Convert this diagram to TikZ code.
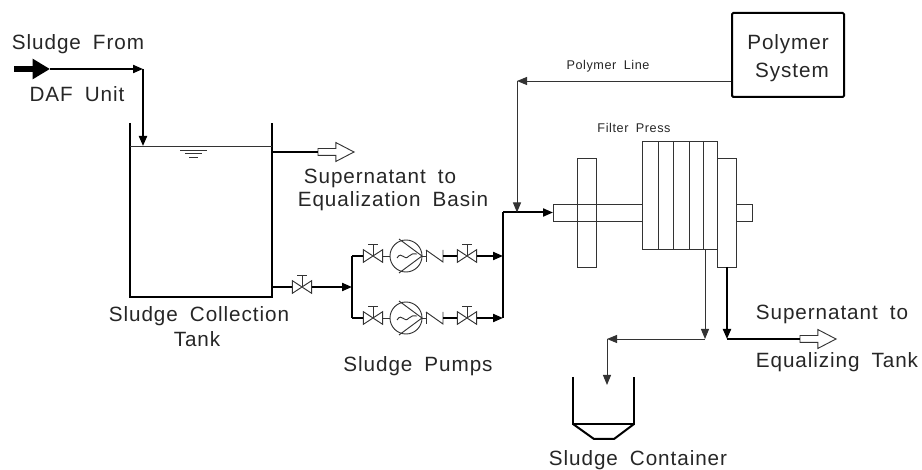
\documentclass[tikz,border=0pt]{standalone}
\usepackage{fontspec}
\setmainfont{Liberation Sans}[LetterSpace=4.5, WordSpace=1.8]
\usetikzlibrary{shapes.arrows, arrows.meta}

% Bow-tie valve with hand wheel, drawn over a named box
\newcommand{\drawvalve}[1]{
  \draw[thin_line] (#1.north west) -- (#1.south east) -- (#1.north east) -- (#1.south west) -- cycle;
  \draw[thin_line] (#1.center) -- ++(0,-12) ++(-5,0) -- ++(10,0);
}

\begin{document}
\begin{tikzpicture}[x=0.75pt, y=-0.75pt]
  \tikzset{
    thin_line/.style={draw=black!80, line width=0.7pt},
    thick_line/.style={draw=black, line width=1.5pt},
    thin_arrow/.style={thin_line, -{Triangle[length=7.5pt, width=6pt]}},
    thick_arrow/.style={thick_line, -{Triangle[length=7.5pt, width=6pt]}},
    big_label/.style={font=\fontsize{15.5}{18}\selectfont, text=black!85, anchor=base, inner sep=0pt},
    small_label/.style={font=\fontsize{9.5}{11}\selectfont, text=black!85, anchor=base, inner sep=0pt},
    valve_box/.style={rectangle, minimum width=14.5pt, minimum height=9.5pt, inner sep=0pt, outer sep=0pt},
    pump_circle/.style={circle, thin_line, minimum size=24pt, inner sep=0pt, outer sep=0pt},
    hollow_arrow/.style={single arrow, draw=black!80, line width=0.7pt, anchor=tail, fill=white,
      minimum height=27pt, minimum width=13.5pt, inner xsep=0pt, inner ysep=2.25pt, outer sep=0pt,
      single arrow head extend=4.5pt, single arrow tip angle=55},
    press_box/.style={rectangle, thin_line, fill=white, inner sep=0pt, outer sep=0pt, anchor=north west}
  }
  \useasboundingbox (0,0) rectangle (922,470);

  % Labels
  \node[big_label] (from_label) at (78,50) {Sludge From};
  \node[big_label] (daf_label) at (77,102) {DAF Unit};
  \node[big_label] (sup_label) at (380,184) {Supernatant to};
  \node[big_label] (basin_label) at (393,207) {Equalization Basin};
  \node[big_label] (tank_label) at (199,322) {Sludge Collection};
  \node[big_label] (tank2_label) at (197,347) {Tank};
  \node[big_label] (pump_label) at (418,372) {Sludge Pumps};
  \node[big_label] (cont_label) at (638,465) {Sludge Container};
  \node[big_label] (sup2_label) at (832,320) {Supernatant to};
  \node[big_label] (eq_label) at (837,368) {Equalizing Tank};
  \node[big_label] (poly_label) at (788,50) {Polymer};
  \node[big_label] (sys_label) at (792,78) {System};
  \node[small_label] (line_label) at (608,70) {Polymer Line};
  \node[small_label] (press_label) at (634,133) {Filter Press};

  % Sludge inlet
  \coordinate (inlet_start) at (14,69);
  \coordinate (inlet_tip) at (50,69);
  \coordinate (inlet_bend) at (143,69);
  \coordinate (tank_in) at (143,146);
  \draw[line width=5pt, -{Triangle[length=13pt, width=14.5pt]}] (inlet_start) -- (inlet_tip);
  \draw[thick_arrow] (inlet_tip) -- (inlet_bend);
  \draw[thick_arrow] (inlet_bend) -- (tank_in);

  % Collection tank
  \coordinate (tank_nw) at (130,123);
  \coordinate (tank_ne) at (272,123);
  \coordinate (tank_sw) at (130,297);
  \coordinate (tank_se) at (272,297);
  \coordinate (level_w) at (130,146);
  \coordinate (level_e) at (272,146);
  \draw[thick_line] (tank_nw) -- (tank_sw) -- (tank_se) -- (tank_ne);
  \draw[thin_line] (level_w) -- (level_e);
  \draw[thin_line] (180,150) -- (207,150) (185,153.5) -- (202,153.5) (189,157) -- (198,157);

  % Tank overflow
  \coordinate (over_start) at (272,152);
  \node[hollow_arrow] (over_arrow) at (318,152) {};
  \draw[thick_line] (over_start) -- (over_arrow.tail);

  % Tank outlet valve and header
  \coordinate (tank_out) at (272,287);
  \coordinate (suction) at (352,287);
  \node[valve_box] (V-main) at (302,287) {};
  \drawvalve{V-main}
  \draw[thick_line, line width=1pt] (tank_out) -- (V-main.west);
  \draw[thick_arrow] (V-main.east) -- (suction);

  % Draw the two pump rows
  \foreach \y [count=\yi] in {256,318} {
    \coordinate (in-\yi) at (352,\y);
    \coordinate (out-\yi) at (503,\y);
    \node[valve_box] (VA-\yi) at (373,\y) {};
    \node[pump_circle] (P-\yi) at (406,\y) {};
    \node[valve_box] (VB-\yi) at (467,\y) {};
    \coordinate (check_a-\yi) at (426,\y);
    \coordinate (check_b-\yi) at (443,\y);
    \drawvalve{VA-\yi}
    \drawvalve{VB-\yi}
    \draw[thick_line] (in-\yi) -- (VA-\yi.west);
    \draw[thin_line] (VA-\yi.east) -- (P-\yi.west);
    % Casing lines and wave inside the pump
    \draw[thin_line] (399,\y-17) -- (P-\yi.east) -- (399,\y+17);
    \draw[thin_line] (397,\y+2) .. controls (402,\y-6) and (404,\y+6) .. (409,\y) .. controls (411,\y-2) and (414,\y-3) .. (417,\y-2);
    % Check valve
    \draw[thin_line] (P-\yi.east) -- (check_a-\yi);
    \draw[thin_line] (426,\y-6) -- (426,\y+6);
    \draw[thin_line] (426,\y-6) -- (443,\y+6) -- (443,\y-6);
    \draw[thick_line] (check_b-\yi) -- (VB-\yi.west);
    \draw[thick_arrow] (VB-\yi.east) -- (out-\yi);
  }
  \draw[thick_line] (in-1) -- (in-2);

  % Discharge to the press
  \coordinate (disch) at (503,212.5);
  \coordinate (poly_drop) at (517,81);
  \coordinate (poly_in) at (517,212.5);
  \draw[thick_line] (out-2) -- (disch);

  % Filter press
  \node[press_box, minimum width=66.75pt, minimum height=12.75pt] (shaft) at (553,204) {};
  \node[press_box, minimum width=12pt, minimum height=12.75pt] (stub) at (736,204) {};
  \draw[thin_line] (shaft.north west) rectangle (shaft.south east);
  \node[press_box, minimum width=14.25pt, minimum height=81.75pt, fill=none] (plate_a) at (577,158) {};
  \node[press_box, minimum width=56.25pt, minimum height=81pt] (stack) at (642,141) {};
  \node[press_box, minimum width=14.25pt, minimum height=81.75pt] (plate_b) at (717,158) {};
  \foreach \x in {658,673,689,703} {
    \draw[thin_line] (\x,141) -- (\x,249);
  }
  \draw[thick_arrow] (disch) -- (shaft.west);

  % Polymer system
  \node[rectangle, draw=black, line width=1.5pt, rounded corners=1pt, minimum width=84pt, minimum height=63pt, inner sep=0pt, anchor=north west] (polymer) at (731,12) {};
  \coordinate (poly_out) at (731,81);
  \draw[thin_arrow] (poly_out) -- (poly_drop);
  \draw[thin_arrow] (poly_drop) -- (poly_in);

  % Outlets below the press
  \coordinate (solid_top) at (705,249);
  \coordinate (solid_bend) at (705,339);
  \coordinate (solid_turn) at (607,339);
  \coordinate (solid_end) at (607,385);
  \draw[thin_arrow] (solid_top) -- (solid_bend);
  \draw[thin_arrow] (solid_bend) -- (solid_turn);
  \draw[thin_arrow] (solid_turn) -- (solid_end);

  \coordinate (filt_top) at (727,267);
  \coordinate (filt_bend) at (727,339);
  \node[hollow_arrow] (filt_arrow) at (800,339) {};
  \draw[thick_arrow] (filt_top) -- (filt_bend);
  \draw[thick_line] (filt_bend) -- (filt_arrow.tail);

  % Sludge container
  \draw[thick_line] (573,377) -- (573,424) -- (634,424) -- (634,377);
  \draw[thick_line] (573,424) -- (594,439) -- (614,439) -- (634,424);
\end{tikzpicture}
\end{document}
